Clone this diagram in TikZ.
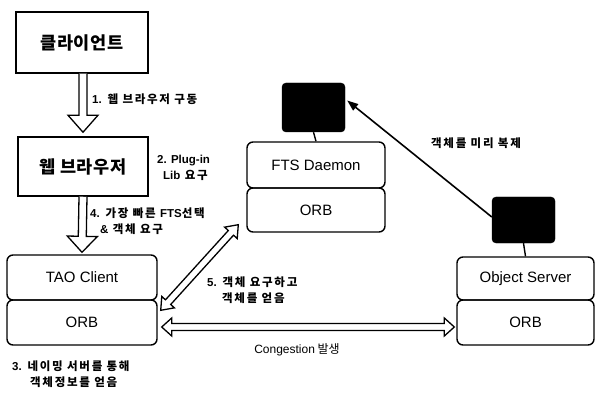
\documentclass[tikz,border=0pt]{standalone}
\usepackage{fontspec}
\setmainfont{Noto Sans CJK KR}
\newfontfamily\lblfont[LetterSpace=15]{Noto Sans CJK KR}
\newfontfamily\titlefont[LetterSpace=4]{Noto Sans CJK KR}
\newfontfamily\latfont{Liberation Sans}
\usetikzlibrary{calc,arrows.meta}

% hollow double-headed arrow between two named coordinates
\newcommand\dblhollow[5]{%
  \coordinate (hA) at ($(#1)!#5!(#2)$);
  \coordinate (hB) at ($(#2)!#5!(#1)$);
  \draw[hollowarrow] (#1) -- ($(hA)!#4!90:(#2)$) -- ($(hA)!#3!90:(#2)$)
    -- ($(hB)!#3!-90:(#1)$) -- ($(hB)!#4!-90:(#1)$) -- (#2)
    -- ($(hB)!#4!90:(#1)$) -- ($(hB)!#3!90:(#1)$)
    -- ($(hA)!#3!-90:(#2)$) -- ($(hA)!#4!-90:(#2)$) -- cycle;
}
% hollow single-headed arrow from start S to tip T (open at S)
\newcommand\sglhollow[5]{%
  \coordinate (hT) at ($(#2)!#5!(#1)$);
  \draw[hollowarrow] ($(#1)!#3!90:(#2)$) -- ($(hT)!#3!-90:(#1)$)
    -- ($(hT)!#4!-90:(#1)$) -- (#2) -- ($(hT)!#4!90:(#1)$)
    -- ($(hT)!#3!90:(#1)$) -- ($(#1)!#3!-90:(#2)$);
}
\newcommand\lat[1]{{\latfont\bfseries #1}}

\begin{document}
\begin{tikzpicture}[x=1pt,y=-1pt,
  plainbox/.style={draw, line width=1.5pt, minimum width=#1, inner sep=0pt},
  plainbox/.default=130pt,
  roundbox/.style={draw, line width=1.4pt, rounded corners=6pt, inner sep=0pt, font=\latfont\fontsize{15}{17}\selectfont},
  blackbox/.style={draw, fill=black, rounded corners=4pt, minimum width=63pt, inner sep=0pt},
  hollowarrow/.style={draw, line width=1.3pt, fill=white, line join=miter},
  lbl/.style={font=\lblfont\bfseries\fontsize{11.5}{15.5}\selectfont, inner sep=0pt, align=left},
  title/.style={font=\titlefont\bfseries\fontsize{17.5}{20}\selectfont}
]
\useasboundingbox (0,0) rectangle (596,395);

% left column
\node[plainbox=132pt, minimum height=61pt, title] (cl) at (82,42.5) {클라이언트};
\node[plainbox=130pt, minimum height=59pt, title] (wb) at (83,166.5) {웹 브라우저};
\node[roundbox, minimum width=150pt, minimum height=45pt] (tao) at (82,277.5) {TAO Client};
\node[roundbox, minimum width=150pt, minimum height=45pt] (taoorb) at (82,322.5) {ORB};

% FTS daemon
\node[blackbox, minimum height=49pt] (ftsblk) at (313.5,107.5) {};
\node[roundbox, minimum width=138pt, minimum height=46pt] (fts) at (316,165) {FTS Daemon};
\node[roundbox, minimum width=138pt, minimum height=44pt] (ftsorb) at (316,210) {ORB};
\draw[line width=1.4pt] (ftsblk.south) -- (fts.north);

% Object server
\node[blackbox, minimum height=46pt] (osblk) at (523.5,220) {};
\node[roundbox, minimum width=137pt, minimum height=43pt] (os) at (525.5,278.5) {Object Server};
\node[roundbox, minimum width=137pt, minimum height=45pt] (osorb) at (525.5,322.5) {ORB};
\draw[line width=1.4pt] (osblk.south) -- (os.north);

% replication arrow
\coordinate (repend) at ($(ftsblk.east)+(2,-7)$);
\draw[line width=1.6pt, -{Triangle[length=11pt,width=8pt]}] ($(osblk.west)+(0,-3)$) -- (repend);

% vertical hollow arrows
\coordinate (a1s) at ($(cl.south)+(1,0)$);
\coordinate (a1t) at ($(wb.north)+(0,-4)$);
\sglhollow{a1s}{a1t}{4pt}{15pt}{17pt}
\coordinate (a2s) at (wb.south);
\coordinate (a2t) at ($(tao.north)+(0,-2)$);
\sglhollow{a2s}{a2t}{4pt}{15pt}{16pt}

% diagonal and horizontal double arrows
\coordinate (dA) at ($(taoorb.north east)+(3,11)$);
\coordinate (dB) at ($(ftsorb.south west)+(-8,-8)$);
\dblhollow{dA}{dB}{3.5pt}{8.5pt}{11pt}
\coordinate (hzA) at ($(taoorb.east)+(4,4.5)$);
\coordinate (hzB) at ($(osorb.west)+(-2,4.5)$);
\dblhollow{hzA}{hzB}{3.5pt}{9pt}{10pt}

% labels
\node[lbl, anchor=west] (l1) at (92,99) {\lat{1.} 웹 브라우저 구동};
\node[lbl, anchor=north west] (l2) at (157,155) {\lat{2. Plug-in}\\\hspace*{6pt}\lat{Lib} 요구};
\node[lbl, anchor=north west] (l4) at (90,208) {\lat{4.} 가장 빠른 \lat{FTS}선택\\\hspace*{10pt}\lat{\&} 객체 요구};
\node[lbl, anchor=north west] (l3) at (12,361) {\lat{3.} 네이밍 서버를 통해\\\hspace*{18pt}객체정보를 얻음};
\node[lbl, anchor=north west] (l5) at (207,277) {\lat{5.} 객체 요구하고\\\hspace*{15pt}객체를 얻음};
\node[lbl] (l6) at (476,143) {객체를 미리 복제};
\node[inner sep=0pt, font=\fontsize{12}{14}\selectfont] (l7) at (297,350) {{\latfont Congestion} 발생};
\end{tikzpicture}
\end{document}
